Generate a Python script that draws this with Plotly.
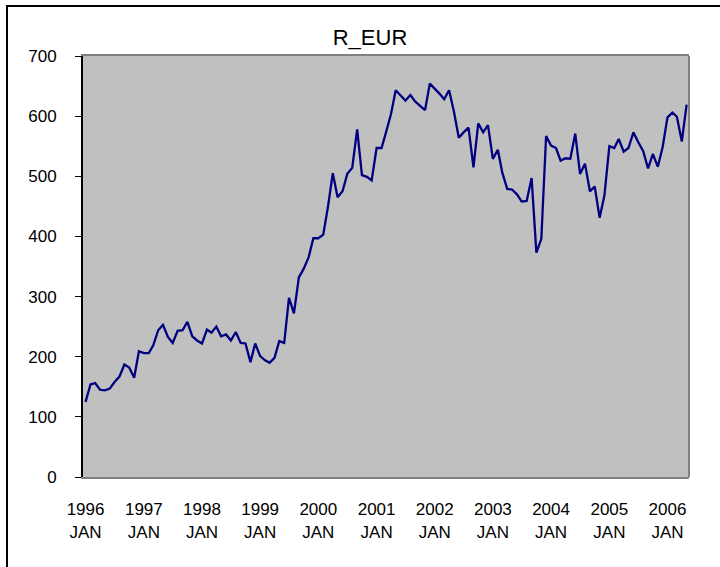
import plotly.graph_objects as go
import pandas as pd

# Monthly values, Jan 1996 .. May 2006
values_1996 = [125, 154, 156, 145, 144, 147, 158, 167, 187, 182, 165, 209]
values_1997 = [206, 206, 219, 244, 253, 233, 223, 243, 244, 258, 234, 227]
values_1998 = [222, 245, 240, 250, 234, 237, 227, 241, 223, 222, 191, 222]
values_1999 = [201, 194, 190, 198, 226, 223, 298, 272, 332, 346, 365, 397]
values_2000 = [397, 403, 448, 505, 465, 475, 504, 514, 578, 502, 499, 493]
values_2001 = [547, 547, 573, 603, 643, 635, 626, 635, 624, 617, 610, 654]
values_2002 = [646, 637, 628, 643, 608, 564, 573, 581, 515, 588, 573, 585]
values_2003 = [529, 544, 506, 479, 478, 470, 458, 459, 497, 373, 396, 567]
values_2004 = [551, 547, 526, 530, 529, 571, 504, 521, 475, 483, 431, 468]
values_2005 = [550, 547, 562, 541, 547, 573, 557, 542, 513, 537, 516, 548]
values_2006 = [598, 606, 599, 558, 619]

values = (values_1996 + values_1997 + values_1998 + values_1999 + values_2000 +
          values_2001 + values_2002 + values_2003 + values_2004 + values_2005 + values_2006)
months = pd.date_range("1996-01-01", periods=len(values), freq="MS")

tick_years = [str(y) for y in range(1996, 2007)]
tick_dates = [f"{y}-01-01" for y in tick_years]
tick_text = [f"{y}<br>JAN" for y in tick_years]

W, H = 720, 567
L, R, T, B = 83, 31, 56, 90
pw, ph = W - L - R, H - T - B

def px(x):
    return (x - L) / pw

def py(y):
    return (H - B - y) / ph

fig = go.Figure()
fig.add_trace(go.Scatter(
    x=months, y=values, mode="lines",
    line=dict(color="#000080", width=2.3),
    hoverinfo="x+y", showlegend=False,
))

font = dict(family="Liberation Sans, Arial, sans-serif", size=17, color="#000000")

fig.update_layout(
    width=W, height=H,
    margin=dict(l=L, r=R, t=T, b=B),
    paper_bgcolor="white",
    plot_bgcolor="#C0C0C0",
    font=font,
    title=dict(text="R_EUR", x=370 / W, xref="container", xanchor="center",
               y=1 - 37 / H, yref="container", yanchor="middle",
               font=dict(family="Liberation Sans, Arial, sans-serif", size=22, color="#000000")),
    xaxis=dict(
        range=["1995-12-16", "2006-05-16"],
        tickvals=tick_dates, ticktext=tick_text,
        showgrid=False, zeroline=False,
        showline=True, linecolor="#808080", linewidth=2, mirror=True,
        ticks="", tickfont=font, ticklabelstandoff=16,
    ),
    yaxis=dict(
        range=[0, 700], tickvals=[0, 100, 200, 300, 400, 500, 600, 700],
        showgrid=False, zeroline=False,
        showline=True, linecolor="#000000", linewidth=2,
        ticks="outside", ticklen=6, tickwidth=1, tickcolor="#000000",
        ticklabelstandoff=15, tickfont=font,
    ),
    shapes=[
        # right edge of plot area
        dict(type="line", xref="paper", yref="paper", x0=1, x1=1, y0=0, y1=1,
             line=dict(color="#808080", width=2)),
        # outer chart border (extends past the visible window on right/bottom)
        dict(type="rect", xref="paper", yref="paper",
             x0=px(7), x1=px(760), y0=py(600), y1=py(6),
             line=dict(color="#000000", width=2), fillcolor="rgba(0,0,0,0)",
             layer="above"),
    ],
)

fig.write_html("out.html", config={"displayModeBar": False},
               post_script="document.body.style.margin='0';document.body.style.overflow='hidden';")
